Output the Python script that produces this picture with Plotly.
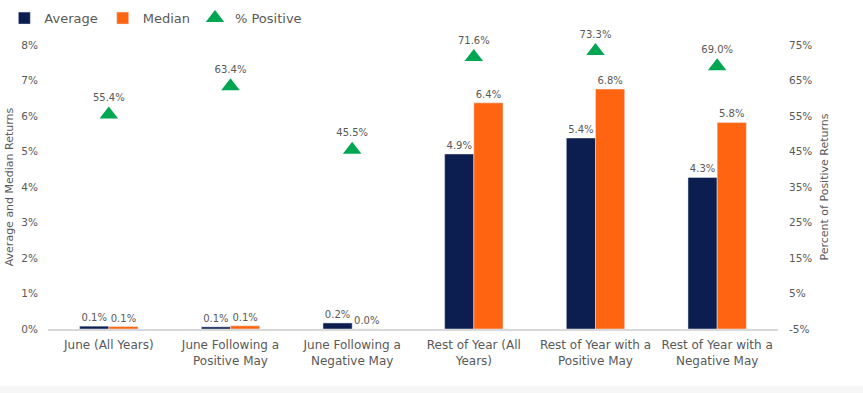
import plotly.graph_objects as go

categories = ["June (All Years)", "June Following a<br>Positive May", "June Following a<br>Negative May",
              "Rest of Year (All<br>Years)", "Rest of Year with a<br>Positive May", "Rest of Year with a<br>Negative May"]
average = [0.08, 0.06, 0.17, 4.93, 5.38, 4.27]
median = [0.07, 0.09, 0.0, 6.37, 6.76, 5.82]
pct_positive = [55.4, 63.4, 45.5, 71.6, 73.3, 69.0]

left_ticks = [0, 1, 2, 3, 4, 5, 6, 7, 8]
right_ticks = [-5, 5, 15, 25, 35, 45, 55, 65, 75]

FONT = "DejaVu Sans"
GREY = "#595959"

fig = go.Figure()
fig.add_trace(go.Bar(x=categories, y=average, name="Average", marker_color="#0C1E4F",
                     texttemplate="%{y:.1f}%", textposition="outside", cliponaxis=False,
                     textfont=dict(size=10, color=GREY, family=FONT)))
fig.add_trace(go.Bar(x=categories, y=median, name="Median", marker_color="#FF6510",
                     texttemplate="%{y:.1f}%", textposition="outside", cliponaxis=False,
                     textfont=dict(size=10, color=GREY, family=FONT)))
fig.add_trace(go.Scatter(x=categories, y=pct_positive, name="% Positive", yaxis="y2",
                         mode="markers+text", marker=dict(symbol="triangle-up", size=16, color="#00A651"),
                         text=[f"{v:.1f}%" for v in pct_positive], textposition="top center",
                         textfont=dict(size=10, color=GREY, family=FONT), cliponaxis=False))

fig.update_layout(
    width=863, height=393,
    margin=dict(l=48, r=85, t=45, b=64, autoexpand=False),
    paper_bgcolor="white", plot_bgcolor="white",
    font=dict(family=FONT, color=GREY, size=11),
    barmode="group", bargap=0.52, bargroupgap=0,
    showlegend=True,
    legend=dict(orientation="h", x=0.005, y=0.992, xref="container", yref="container",
                xanchor="left", yanchor="top", font=dict(size=13, color=GREY, family=FONT),
                itemwidth=30, tracegroupgap=0, bgcolor="rgba(0,0,0,0)"),
    xaxis=dict(showgrid=False, showline=True, linecolor="#d9d9d9", linewidth=1.5,
               ticks="", tickfont=dict(size=12, color=GREY), automargin=False,
               ticklabelstandoff=4),
    yaxis=dict(range=[0, 8], tickvals=left_ticks, ticktext=[f"{t}%" for t in left_ticks],
               showgrid=False, zeroline=False, showline=False, ticks="", automargin=False,
               tickfont=dict(size=10.5, color=GREY), ticklabelstandoff=9,
               title=dict(text="Average and Median Returns", font=dict(size=11, color=GREY), standoff=5)),
    yaxis2=dict(range=[-5, 75], overlaying="y", side="right", tickvals=right_ticks,
                ticktext=[f"{t}%" for t in right_ticks], showgrid=False, zeroline=False,
                showline=False, ticks="", automargin=False, tickfont=dict(size=10.5, color=GREY),
                ticklabelstandoff=10,
                title=dict(text="Percent of Positive Returns", font=dict(size=11, color=GREY), standoff=8)),
    shapes=[dict(type="rect", xref="paper", yref="paper", x0=-0.1, x1=1.2, y0=-0.25, y1=-0.20,
                 fillcolor="#f6f6f6", line=dict(width=0), layer="below")],
)

fig.write_html("out.html", post_script="document.body.style.margin='0';",
               config={"displayModeBar": False})
